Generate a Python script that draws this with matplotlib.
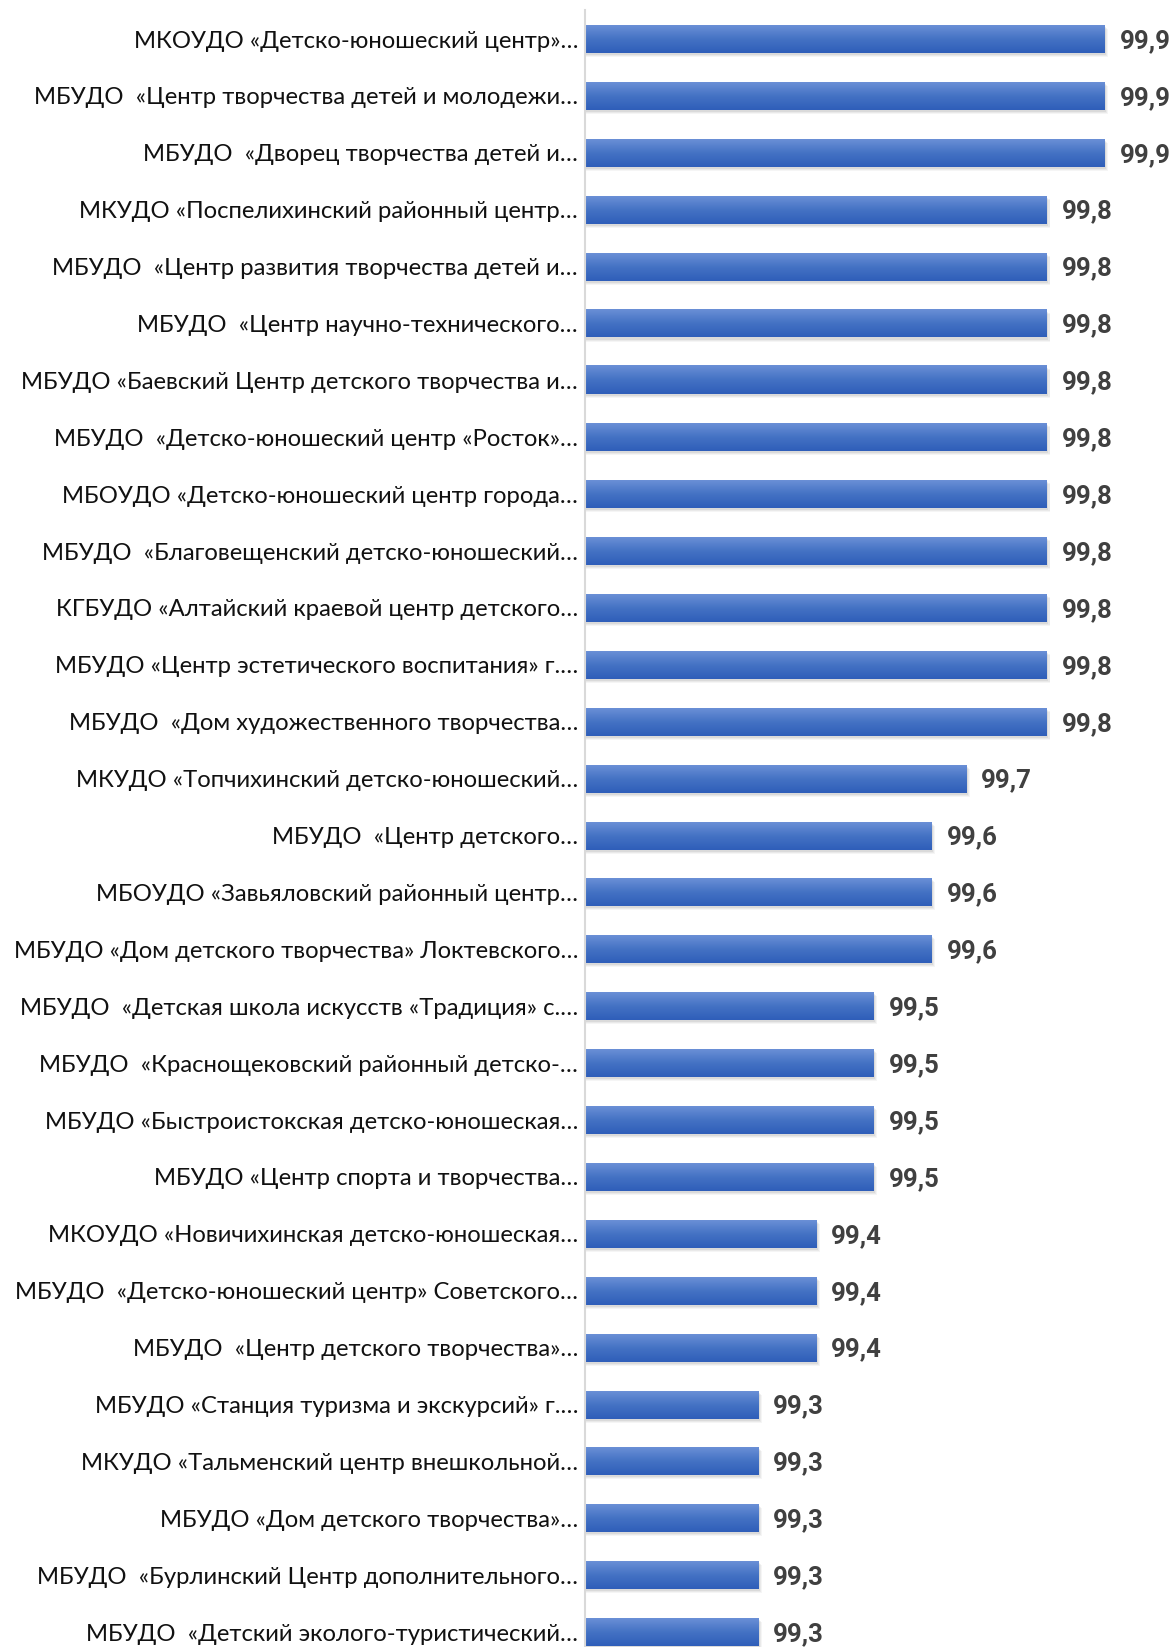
import numpy as np
import matplotlib
matplotlib.use("Agg")
import matplotlib.pyplot as plt
from matplotlib.colors import LinearSegmentedColormap

labels = [
    "МКОУДО «Детско-юношеский центр»…",
    "МБУДО  «Центр творчества детей и молодежи…",
    "МБУДО  «Дворец творчества детей и…",
    "МКУДО «Поспелихинский районный центр…",
    "МБУДО  «Центр развития творчества детей и…",
    "МБУДО  «Центр научно-технического…",
    "МБУДО «Баевский Центр детского творчества и…",
    "МБУДО  «Детско-юношеский центр «Росток»…",
    "МБОУДО «Детско-юношеский центр города…",
    "МБУДО  «Благовещенский детско-юношеский…",
    "КГБУДО «Алтайский краевой центр детского…",
    "МБУДО «Центр эстетического воспитания» г.…",
    "МБУДО  «Дом художественного творчества…",
    "МКУДО «Топчихинский детско-юношеский…",
    "МБУДО  «Центр детского…",
    "МБОУДО «Завьяловский районный центр…",
    "МБУДО «Дом детского творчества» Локтевского…",
    "МБУДО  «Детская школа искусств «Традиция» с.…",
    "МБУДО  «Краснощековский районный детско-…",
    "МБУДО «Быстроистокская детско-юношеская…",
    "МБУДО «Центр спорта и творчества…",
    "МКОУДО «Новичихинская детско-юношеская…",
    "МБУДО  «Детско-юношеский центр» Советского…",
    "МБУДО  «Центр детского творчества»…",
    "МБУДО «Станция туризма и экскурсий» г.…",
    "МКУДО «Тальменский центр внешкольной…",
    "МБУДО «Дом детского творчества»…",
    "МБУДО  «Бурлинский Центр дополнительного…",
    "МБУДО  «Детский эколого-туристический…",
]
values = [99.9, 99.9, 99.9, 99.8, 99.8, 99.8, 99.8, 99.8, 99.8, 99.8,
          99.8, 99.8, 99.8, 99.66, 99.6, 99.6, 99.6, 99.5, 99.5, 99.5,
          99.5, 99.4, 99.4, 99.4, 99.3, 99.3, 99.3, 99.3, 99.3]

W, H = 1176, 1647
x0 = 99.0
px_x = 1 / 577.5      # data units per pixel (x)
px_y = 1 / 56.9       # data units per pixel (y)
bar_h = 28 * px_y

fig = plt.figure(figsize=(W / 100, H / 100), dpi=100)
ax = fig.add_axes([585 / W, 0, 1 - 585 / W, (H - 10) / H])

grad = LinearSegmentedColormap.from_list("g", ["#6a8fd6", "#4472c4", "#2f5eb9"])
g = np.linspace(0, 1, 64).reshape(-1, 1)

for i, v in enumerate(values):
    # soft shadow
    for k, a in enumerate([0.10, 0.08, 0.06]):
        off = (k + 2) * px_y
        ax.add_patch(plt.Rectangle((x0, i - bar_h / 2 + off), v - x0 + (k + 1.5) * px_x, bar_h,
                                   color="#606060", alpha=a, lw=0, zorder=1))
    ax.imshow(g, cmap=grad, extent=[x0, v, i + bar_h / 2, i - bar_h / 2],
              aspect="auto", zorder=2, interpolation="bilinear")
    ax.text(v + 15 * px_x, i + 2 * px_y, f"{v:.1f}".replace(".", ","), va="center", ha="left",
            fontsize=18.5, fontweight="bold", color="#404040",
            family=["Roboto", "Liberation Sans", "DejaVu Sans"])

ax.set_xlim(x0, x0 + (W - 585) * px_x)
ax.set_ylim((H - 39) * px_y, (10 - 39) * px_y)
ax.set_yticks(range(len(labels)))
ax.set_yticklabels(labels, fontsize=17.2, family="Lato", color="#111111")
ax.tick_params(axis="y", length=0, pad=5)
ax.set_xticks([])
for s in ["top", "right", "bottom"]:
    ax.spines[s].set_visible(False)
ax.spines["left"].set_color("#d9d9d9")
ax.spines["left"].set_linewidth(1.5)
ax.spines["left"].set_zorder(3)

fig.savefig("out.png", dpi=100)
